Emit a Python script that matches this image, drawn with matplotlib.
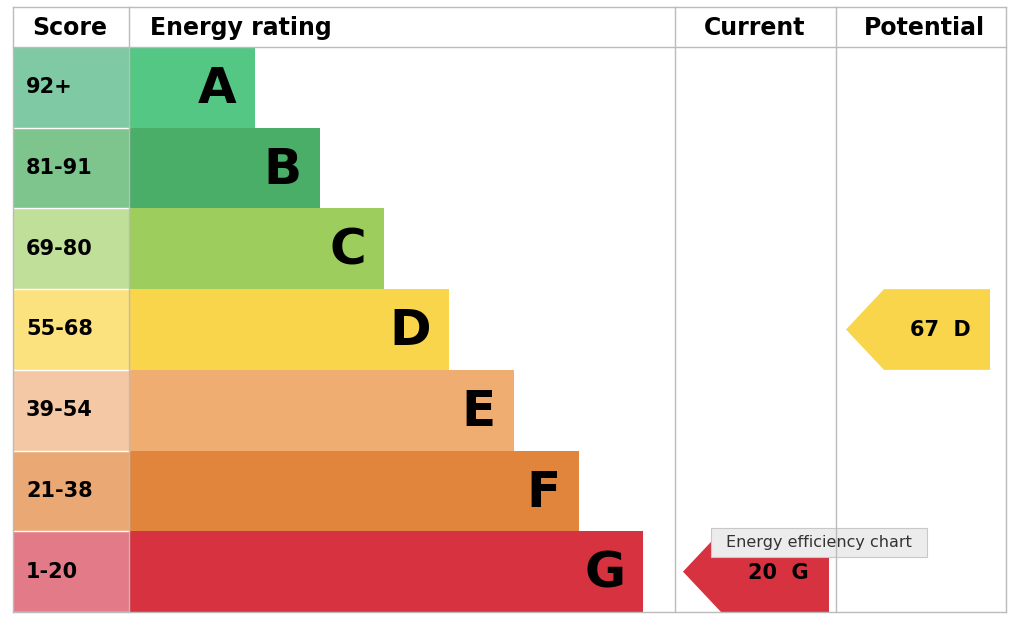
import matplotlib.pyplot as plt
from matplotlib.patches import Rectangle, Polygon

bands = ['A', 'B', 'C', 'D', 'E', 'F', 'G']
scores = ['92+', '81-91', '69-80', '55-68', '39-54', '21-38', '1-20']
bar_colors = ['#55c785', '#4aad68', '#9ccd5d', '#f8d54a', '#f0ad72', '#e2853c', '#d7323f']
cell_colors = ['#80c9a5', '#7dc48d', '#c0e09a', '#fbe27e', '#f4c8a4', '#eaa874', '#e27a88']
current = (20, 'G')
potential = (67, 'D')

fig = plt.figure(figsize=(10.24, 6.28), dpi=100)
ax = fig.add_axes([0, 0, 1, 1])
ax.set_xlim(0, 1024)
ax.set_ylim(628, 0)
ax.axis('off')

top, head, bottom = 7, 47, 612
rh = (bottom - head) / len(bands)
left, sc_r, cur_l, pot_l, right = 13, 129, 675, 836, 1006
grid = '#bbbbbb'

# header
ax.text(70, 28, 'Score', ha='center', va='center', fontsize=17, fontweight='bold')
ax.text(150, 28, 'Energy rating', ha='left', va='center', fontsize=17, fontweight='bold')
ax.text(755, 28, 'Current', ha='center', va='center', fontsize=17, fontweight='bold')
ax.text(924, 28, 'Potential', ha='center', va='center', fontsize=17, fontweight='bold')

for i, b in enumerate(bands):
    y0 = head + i * rh
    ax.add_patch(Rectangle((left, y0), sc_r - left, rh, color=cell_colors[i], lw=0))
    end = 255 + i * 64.7
    ax.add_patch(Rectangle((sc_r, y0), end - sc_r, rh, color=bar_colors[i], lw=0))
    ax.text(26, y0 + rh / 2, scores[i], ha='left', va='center', fontsize=15, fontweight='bold')
    ax.text(end - 18, y0 + rh / 2 + 2, b, ha='right', va='center', fontsize=36, fontweight='bold')
    ax.plot([left, sc_r], [y0 + rh, y0 + rh], color='white', lw=1)


def arrow(val, band, x0, x1):
    i = bands.index(band)
    y0 = head + i * rh
    y1 = y0 + rh
    ym = (y0 + y1) / 2
    tip = 38
    ax.add_patch(Polygon([(x0, ym), (x0 + tip, y0), (x1, y0), (x1, y1), (x0 + tip, y1)],
                         color=bar_colors[i], lw=0))
    ax.text((x0 + tip + x1) / 2 + 3, ym + 1, f'{val}  {band}', ha='center', va='center',
            fontsize=15, fontweight='bold')


arrow(current[0], current[1], 683, 829)
arrow(potential[0], potential[1], 846, 990)

# grid lines
for x in [left, sc_r, cur_l, pot_l, right]:
    ax.plot([x, x], [top, bottom], color=grid, lw=1)
for y in [top, head, bottom]:
    ax.plot([left, right], [y, y], color=grid, lw=1)

# tooltip
ax.add_patch(Rectangle((711, 528), 216, 29, facecolor='#ececec', edgecolor='#c8c8c8', lw=0.8))
ax.text(819, 543, 'Energy efficiency chart', ha='center', va='center', fontsize=11.5, color='#333333')

fig.savefig('out.png', dpi=100)
